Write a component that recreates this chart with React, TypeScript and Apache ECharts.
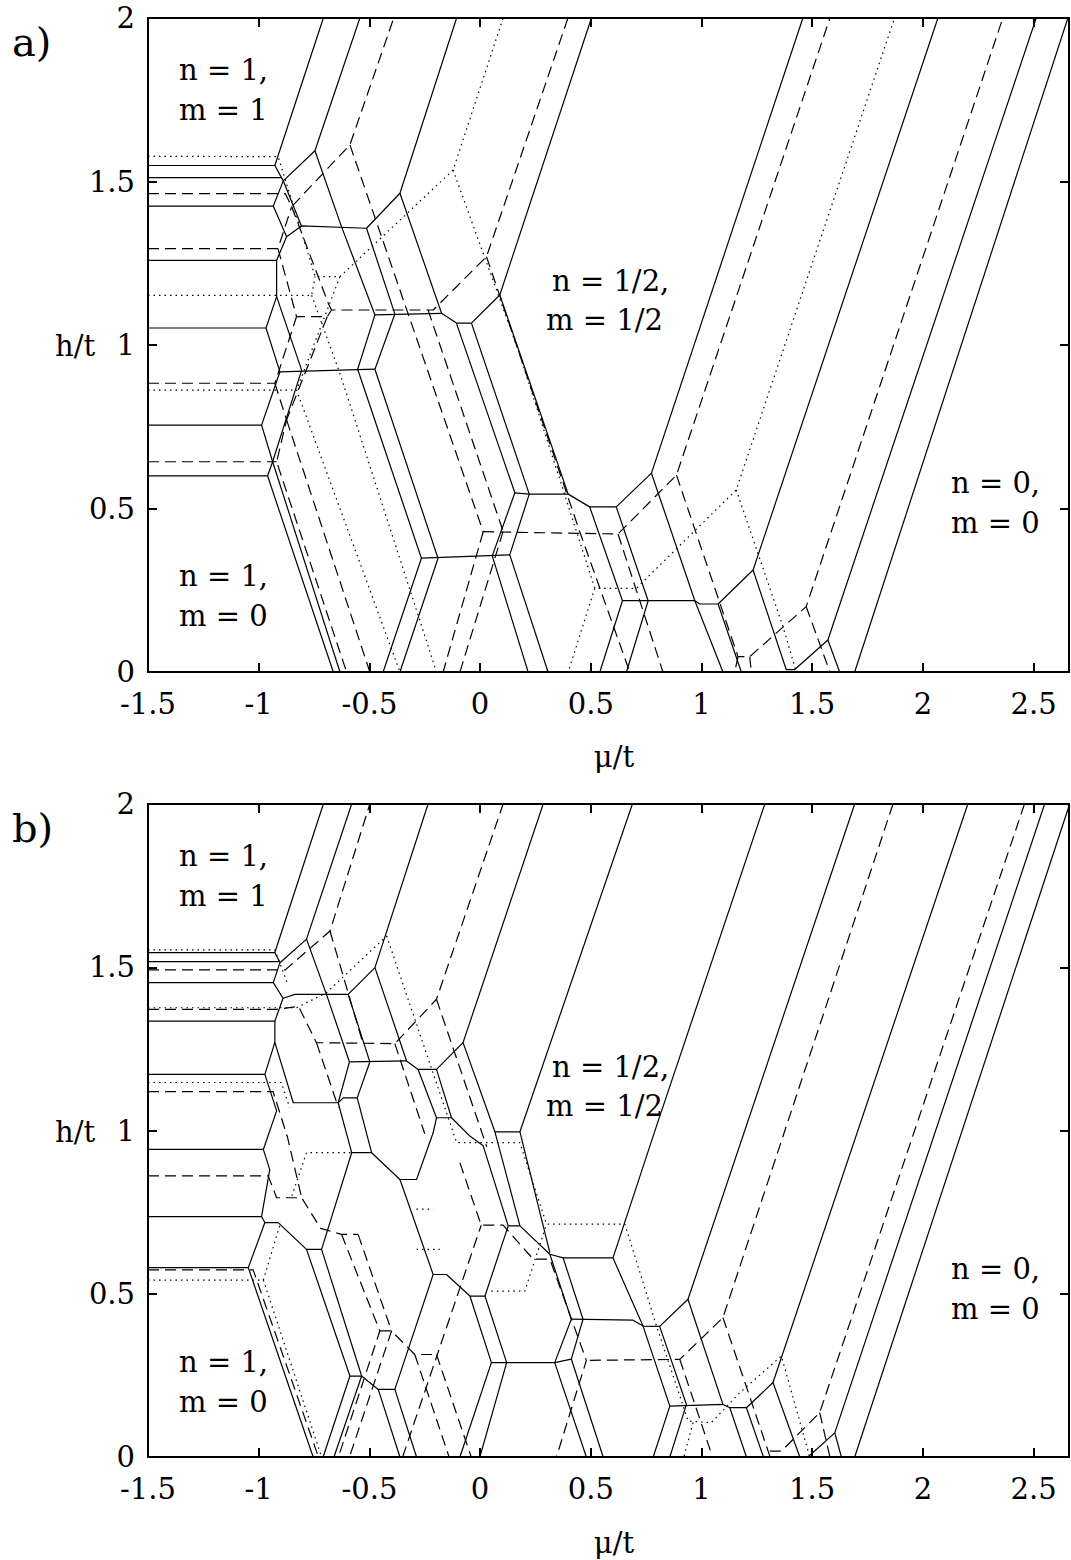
import React, { useEffect, useRef } from "react";
import * as echarts from "echarts";

type Pt = [number, number];
type Poly = Pt[];

const xTickLabels = ["-1.5", "-1", "-0.5", "0", "0.5", "1", "1.5", "2", "2.5"];
const yTickLabels = ["0", "0.5", "1", "1.5", "2"];
const xMin = -1.5;
const xMax = 2.66;
const yMin = 0;
const yMax = 2;

const aSolid: Poly[] = [
  [[-1.5, 1.549], [-0.927, 1.549], [-0.708, 2]],
  [[-0.927, 1.549], [-0.889, 1.502], [-0.746, 1.594], [-0.543, 2]],
  [[-1.5, 1.512], [-0.897, 1.512]],
  [[-1.5, 1.425], [-0.934, 1.425], [-0.889, 1.502]],
  [[-0.934, 1.425], [-0.874, 1.331], [-0.807, 1.364], [-0.513, 1.357], [-0.362, 1.464], [-0.106, 2]],
  [[-0.889, 1.502], [-0.807, 1.364]],
  [[-0.746, 1.594], [-0.626, 1.362], [-0.475, 1.092]],
  [[-0.513, 1.357], [-0.385, 1.095]],
  [[-0.362, 1.464], [-0.174, 1.097], [-0.107, 1.067], [-0.039, 1.067], [0.089, 1.153], [0.503, 2]],
  [[-0.475, 1.092], [-0.174, 1.097]],
  [[-1.5, 1.259], [-0.919, 1.259], [-0.874, 1.331]],
  [[-0.919, 1.259], [-0.919, 1.148], [-0.967, 1.052]],
  [[-1.5, 1.052], [-0.967, 1.052], [-0.904, 0.918]],
  [[-0.919, 1.148], [-0.806, 0.923]],
  [[-0.904, 0.918], [-0.475, 0.926]],
  [[-0.475, 1.092], [-0.553, 0.926], [-0.265, 0.348], [-0.438, 0]],
  [[-0.385, 1.095], [-0.475, 0.926], [-0.19, 0.348], [-0.362, 0]],
  [[-0.904, 0.918], [-0.987, 0.755], [-0.937, 0.643], [-0.96, 0.6], [-0.663, 0]],
  [[-1.5, 0.755], [-0.987, 0.755]],
  [[-1.5, 0.6], [-0.96, 0.6]],
  [[-0.806, 0.923], [-0.937, 0.643], [-0.633, 0]],
  [[-0.265, 0.348], [0.134, 0.358]],
  [[-0.107, 1.067], [0.157, 0.548], [0.055, 0.355], [0.217, 0]],
  [[-0.039, 1.067], [0.222, 0.544], [0.134, 0.358], [0.307, 0]],
  [[0.157, 0.548], [0.222, 0.544], [0.398, 0.544], [0.495, 0.505], [0.615, 0.505], [0.774, 0.608], [1.458, 2]],
  [[0.089, 1.153], [0.398, 0.544]],
  [[0.495, 0.505], [0.643, 0.218], [0.541, 0]],
  [[0.615, 0.505], [0.759, 0.218], [0.661, 0]],
  [[0.643, 0.218], [0.97, 0.218], [0.992, 0.208], [1.075, 0.208], [1.233, 0.312], [2.068, 2]],
  [[0.97, 0.218], [1.097, 0]],
  [[1.075, 0.208], [1.18, 0]],
  [[0.774, 0.608], [0.97, 0.218]],
  [[1.233, 0.312], [1.383, 0.007], [1.42, 0.007], [1.571, 0.098], [2.512, 2]],
  [[1.571, 0.098], [1.624, 0]],
  [[1.692, 0], [2.655, 2]],
];

const aDashed: Poly[] = [
  [[-1.5, 1.463], [-0.88, 1.463], [-0.851, 1.423], [-0.588, 1.612], [-0.39, 2]],
  [[-1.5, 1.295], [-0.913, 1.295], [-0.851, 1.423]],
  [[-0.913, 1.295], [-0.829, 1.087], [-0.69, 1.087], [-0.671, 1.107], [-0.212, 1.107], [0.029, 1.27], [0.397, 2]],
  [[-0.851, 1.423], [-0.686, 1.128], [-0.671, 1.107]],
  [[-0.588, 1.612], [0.014, 0.429]],
  [[-0.235, 1.107], [0.104, 0.43]],
  [[0.029, 1.27], [0.45, 0.429], [0.676, 0]],
  [[0.014, 0.429], [0.623, 0.422], [0.887, 0.602], [1.58, 2]],
  [[0.623, 0.422], [0.826, 0]],
  [[0.887, 0.602], [1.165, 0.047], [1.218, 0.047], [1.473, 0.2], [2.361, 2]],
  [[1.473, 0.2], [1.58, 0]],
  [[1.165, 0.047], [1.15, 0]],
  [[1.218, 0.047], [1.225, 0]],
  [[0.014, 0.429], [-0.167, 0]],
  [[0.104, 0.43], [-0.091, 0]],
  [[-1.5, 0.883], [-0.927, 0.883], [-0.829, 1.087]],
  [[-0.927, 0.883], [-0.874, 0.771], [-0.919, 0.643], [-0.603, 0]],
  [[-1.5, 0.643], [-0.919, 0.643]],
  [[-0.69, 1.087], [-0.874, 0.771]],
  [[-0.874, 0.771], [-0.498, 0]],
];

const aDotted: Poly[] = [
  [[-1.5, 1.577], [-0.912, 1.576], [-0.745, 1.209], [-0.633, 1.209], [-0.122, 1.535], [0.104, 2]],
  [[-1.5, 1.152], [-0.761, 1.152], [-0.745, 1.209]],
  [[-0.122, 1.535], [0.172, 0.985], [0.518, 0.256], [0.706, 0.256], [1.157, 0.557], [1.872, 2]],
  [[-0.633, 1.209], [-0.829, 0.862], [-0.362, 0]],
  [[-1.5, 0.862], [-0.829, 0.862]],
  [[-0.761, 1.152], [-0.633, 0.913], [-0.197, 0]],
  [[0.518, 0.256], [0.398, 0]],
  [[1.157, 0.557], [1.368, 0.139], [1.428, 0]],
];

const bSolid: Poly[] = [
  [[-1.5, 1.545], [-0.927, 1.545], [-0.708, 2]],
  [[-0.927, 1.545], [-0.904, 1.514], [-0.784, 1.586], [-0.58, 2]],
  [[-1.5, 1.517], [-0.91, 1.517]],
  [[-1.5, 1.453], [-0.934, 1.453], [-0.904, 1.514]],
  [[-0.934, 1.453], [-0.89, 1.405], [-0.836, 1.417], [-0.596, 1.417], [-0.475, 1.499], [-0.235, 2]],
  [[-0.784, 1.586], [-0.694, 1.417], [-0.59, 1.21]],
  [[-0.596, 1.417], [-0.498, 1.21]],
  [[-0.475, 1.499], [-0.332, 1.213], [-0.28, 1.187], [-0.197, 1.187], [-0.077, 1.269], [0.285, 2]],
  [[-0.59, 1.21], [-0.332, 1.213]],
  [[-0.28, 1.187], [-0.197, 1.039], [-0.129, 1.039], [-0.046, 0.983], [0.014, 0.953], [0.127, 0.708]],
  [[-0.197, 1.187], [-0.129, 1.039]],
  [[-0.077, 1.269], [0.067, 0.996], [0.18, 0.996], [0.688, 2]],
  [[0.067, 0.996], [0.18, 0.708]],
  [[0.18, 0.996], [0.315, 0.626]],
  [[0.127, 0.708], [0.18, 0.708], [0.315, 0.621], [0.375, 0.61], [0.6, 0.61], [0.736, 0.401], [0.811, 0.4], [0.939, 0.483], [1.692, 2]],
  [[0.6, 0.61], [0.613, 0.636], [0.797, 1.014], [1.286, 2]],
  [[-0.212, 0.559], [-0.152, 0.559], [-0.046, 0.493], [0.022, 0.493], [0.127, 0.708]],
  [[-0.046, 0.493], [0.051, 0.289], [-0.091, 0]],
  [[0.022, 0.493], [0.12, 0.289], [-0.001, 0]],
  [[0.051, 0.289], [0.337, 0.289], [0.412, 0.3]],
  [[0.337, 0.289], [0.48, 0]],
  [[0.412, 0.3], [0.556, 0]],
  [[0.337, 0.289], [0.412, 0.422], [0.315, 0.621]],
  [[0.412, 0.3], [0.465, 0.422], [0.375, 0.61]],
  [[0.412, 0.422], [0.691, 0.419], [0.736, 0.401]],
  [[0.736, 0.401], [0.857, 0.156], [0.782, 0]],
  [[0.811, 0.4], [0.932, 0.161], [0.857, 0]],
  [[0.857, 0.156], [1.097, 0.161], [1.128, 0.151], [1.203, 0.151], [1.323, 0.228], [2.203, 2]],
  [[0.939, 0.483], [1.097, 0.161]],
  [[1.128, 0.151], [1.203, 0]],
  [[1.203, 0.151], [1.28, 0]],
  [[1.323, 0.228], [1.444, 0]],
  [[2.55, 2], [1.602, 0.074], [1.481, 0]],
  [[1.602, 0.074], [1.632, 0]],
  [[1.692, 0], [2.663, 2]],
  [[-1.5, 1.335], [-0.927, 1.335], [-0.927, 1.27], [-0.972, 1.172]],
  [[-0.89, 1.405], [-0.927, 1.335]],
  [[-0.927, 1.27], [-0.844, 1.085], [-0.641, 1.085], [-0.58, 0.932]],
  [[-1.5, 1.172], [-0.972, 1.172], [-0.919, 1.06], [-0.979, 0.942]],
  [[-0.641, 1.085], [-0.59, 1.21]],
  [[-0.498, 1.21], [-0.555, 1.1], [-0.618, 1.1], [-0.641, 1.085]],
  [[-0.555, 1.1], [-0.49, 0.932]],
  [[-1.5, 0.942], [-0.979, 0.942], [-0.95, 0.88], [-0.987, 0.736]],
  [[-1.5, 0.736], [-0.987, 0.736], [-0.972, 0.718], [-0.912, 0.718], [-0.784, 0.636], [-0.716, 0.636], [-0.58, 0.932], [-0.49, 0.932], [-0.362, 0.85], [-0.287, 0.85], [-0.212, 0.993], [-0.197, 1.039]],
  [[-1.5, 0.58], [-1.047, 0.58], [-0.754, 0]],
  [[-1.047, 0.58], [-0.972, 0.718]],
  [[-0.784, 0.636], [-0.588, 0.248], [-0.535, 0.248], [-0.46, 0.207], [-0.385, 0.207], [-0.212, 0.559]],
  [[-0.716, 0.636], [-0.535, 0.248]],
  [[-0.588, 0.248], [-0.709, 0]],
  [[-0.535, 0.248], [-0.66, 0]],
  [[-0.46, 0.207], [-0.362, 0]],
  [[-0.385, 0.207], [-0.287, 0]],
  [[-0.362, 0.85], [-0.212, 0.559]],
];

const bDashed: Poly[] = [
  [[-1.5, 1.492], [-0.88, 1.492], [-0.678, 1.611], [-0.498, 2]],
  [[-0.678, 1.611], [-0.53, 1.269]],
  [[-1.5, 1.371], [-0.919, 1.371], [-0.82, 1.38], [-0.739, 1.269], [-0.385, 1.266], [-0.197, 1.402], [0.104, 2]],
  [[-0.197, 1.402], [0.03, 0.95]],
  [[1.865, 2], [1.097, 0.427], [0.902, 0.299], [0.48, 0.296]],
  [[1.097, 0.427], [1.31, 0]],
  [[2.459, 2], [1.534, 0.136], [1.361, 0.018], [1.293, 0.018]],
  [[1.534, 0.136], [1.58, 0]],
  [[-1.5, 1.119], [-0.935, 1.119], [-0.87, 0.98], [-0.806, 0.794]],
  [[-1.5, 0.861], [-0.957, 0.861], [-0.919, 0.794], [-0.806, 0.794], [-0.72, 0.7], [-0.626, 0.682], [-0.551, 0.682]],
  [[-1.5, 0.573], [-1.025, 0.573], [-0.73, 0]],
  [[-0.626, 0.682], [-0.453, 0.386], [-0.64, 0]],
  [[-0.551, 0.682], [-0.4, 0.386], [-0.59, 0]],
  [[-0.453, 0.386], [-0.4, 0.386], [-0.295, 0.314], [-0.197, 0.314]],
  [[-0.295, 0.314], [-0.14, 0]],
  [[-0.197, 0.314], [-0.04, 0]],
  [[-0.091, 0.901], [0.005, 0.71], [0.104, 0.71], [0.24, 0.606], [0.315, 0.606], [0.48, 0.296], [0.345, 0]],
  [[-0.35, 0], [0.005, 0.71]],
  [[0.902, 0.299], [1.05, 0]],
  [[-0.385, 1.266], [-0.25, 0.99]],
  [[-0.739, 1.269], [-0.64, 1.07]],
];

const bDotted: Poly[] = [
  [[-1.5, 1.553], [-0.927, 1.553], [-0.87, 1.45]],
  [[-1.5, 1.376], [-0.829, 1.376], [-0.694, 1.422], [-0.422, 1.596]],
  [[-0.422, 1.596], [-0.106, 0.963], [0.18, 0.963], [0.3, 0.713], [0.654, 0.713], [0.797, 0.401], [0.94, 0.11], [1.044, 0.105], [1.173, 0.197], [1.361, 0.309], [1.489, 0]],
  [[-1.5, 1.147], [-0.898, 1.147], [-0.86, 1.07]],
  [[-1.5, 0.542], [-0.979, 0.542], [-0.716, 0]],
  [[-0.979, 0.542], [-0.9, 0.72]],
  [[-0.85, 0.8], [-0.784, 0.932], [-0.58, 0.932]],
  [[-0.287, 0.759], [-0.212, 0.759]],
  [[-0.287, 0.636], [-0.182, 0.636]],
  [[0.051, 0.508], [0.202, 0.508], [0.3, 0.713]],
  [[0.962, 0.105], [0.92, 0]],
];

const FONT = '"DejaVu Serif", "Liberation Serif", serif';

function lineSeries(polys: Poly[], type: any, xi: number, yi: number) {
  return polys.map((p) => ({
    type: "line",
    xAxisIndex: xi,
    yAxisIndex: yi,
    data: p,
    symbol: "none",
    showSymbol: false,
    silent: true,
    clip: true,
    animation: false,
    lineStyle: { color: "#000", width: 1.2, type },
    z: 2,
  }));
}

const DASH = [11, 6];
const DOT = [1.5, 4];

function makeX(gridIndex: number, pos: "bottom" | "top", showLabel: boolean) {
  return {
    type: "value",
    gridIndex,
    position: pos,
    min: xMin,
    max: xMax,
    interval: 0.5,
    splitLine: { show: false },
    axisLine: { show: true, onZero: false, lineStyle: { color: "#000", width: 2 } },
    axisTick: { show: true, inside: true, length: 9, lineStyle: { color: "#000", width: 2 } },
    axisLabel: {
      show: showLabel,
      color: "#000",
      fontFamily: FONT,
      fontSize: 29,
      margin: 17,
      showMaxLabel: false,
      formatter: (v: number) => {
        const i = Math.round((v - xMin) / 0.5);
        return Math.abs(xMin + i * 0.5 - v) < 1e-6 && xTickLabels[i] ? xTickLabels[i] : "";
      },
    },
  };
}

function makeY(gridIndex: number, pos: "left" | "right", showLabel: boolean) {
  return {
    type: "value",
    gridIndex,
    position: pos,
    min: yMin,
    max: yMax,
    interval: 0.5,
    splitLine: { show: false },
    axisLine: { show: true, onZero: false, lineStyle: { color: "#000", width: 2 } },
    axisTick: { show: true, inside: true, length: 9, lineStyle: { color: "#000", width: 2 } },
    axisLabel: {
      show: showLabel,
      color: "#000",
      fontFamily: FONT,
      fontSize: 29,
      margin: 13,
      formatter: (v: number) => {
        const i = Math.round(v / 0.5);
        return yTickLabels[i] ?? "";
      },
    },
  };
}

function txt(text: string, x: number, y: number, size: number, align: string = "left") {
  return {
    type: "text",
    x: 0,
    y: 0,
    silent: true,
    style: {
      text,
      x,
      y,
      fill: "#000",
      font: `${size}px ${FONT}`,
      textAlign: align,
      textVerticalAlign: "middle",
      verticalAlign: "middle",
    },
  };
}

export default function App() {
  const ref = useRef<HTMLDivElement>(null);
  useEffect(() => {
    if (!ref.current) return;
    const chart = echarts.init(ref.current, undefined, { renderer: "svg" });
    const off = 786;
    const labels: any[] = [];
    [0, off].forEach((d, k) => {
      labels.push(txt(k === 0 ? "a)" : "b)", 12, 42 + d, 40));
      labels.push(txt("h/t", 55, 346 + d, 29));
      labels.push(txt("μ/t", 614, 757 + d, 29, "center"));
      labels.push(txt("n = 1,", 179, 70 + d, 29));
      labels.push(txt("m = 1", 179, 110 + d, 29));
      labels.push(txt("n = 1/2,", 552, 281 + d, 29));
      labels.push(txt("m = 1/2", 546, 320 + d, 29));
      labels.push(txt("n = 0,", 951, 483 + d, 29));
      labels.push(txt("m = 0", 951, 523 + d, 29));
      labels.push(txt("n = 1,", 179, 576 + d, 29));
      labels.push(txt("m = 0", 179, 616 + d, 29));
    });
    chart.setOption({
      animation: false,
      backgroundColor: "#fff",
      grid: [
        { left: 148, top: 18, width: 921, height: 654 },
        { left: 148, top: 804, width: 921, height: 653 },
      ],
      xAxis: [makeX(0, "bottom", true), makeX(0, "top", false), makeX(1, "bottom", true), makeX(1, "top", false)],
      yAxis: [makeY(0, "left", true), makeY(0, "right", false), makeY(1, "left", true), makeY(1, "right", false)],
      series: [
        ...lineSeries(aSolid, "solid", 0, 0),
        ...lineSeries(aDashed, DASH, 0, 0),
        ...lineSeries(aDotted, DOT, 0, 0),
        ...lineSeries(bSolid, "solid", 2, 2),
        ...lineSeries(bDashed, DASH, 2, 2),
        ...lineSeries(bDotted, DOT, 2, 2),
      ],
      graphic: labels,
    });
    return () => chart.dispose();
  }, []);
  return <div ref={ref} style={{ position: "absolute", left: 0, top: 0, width: 1071, height: 1560 }} />;
}
